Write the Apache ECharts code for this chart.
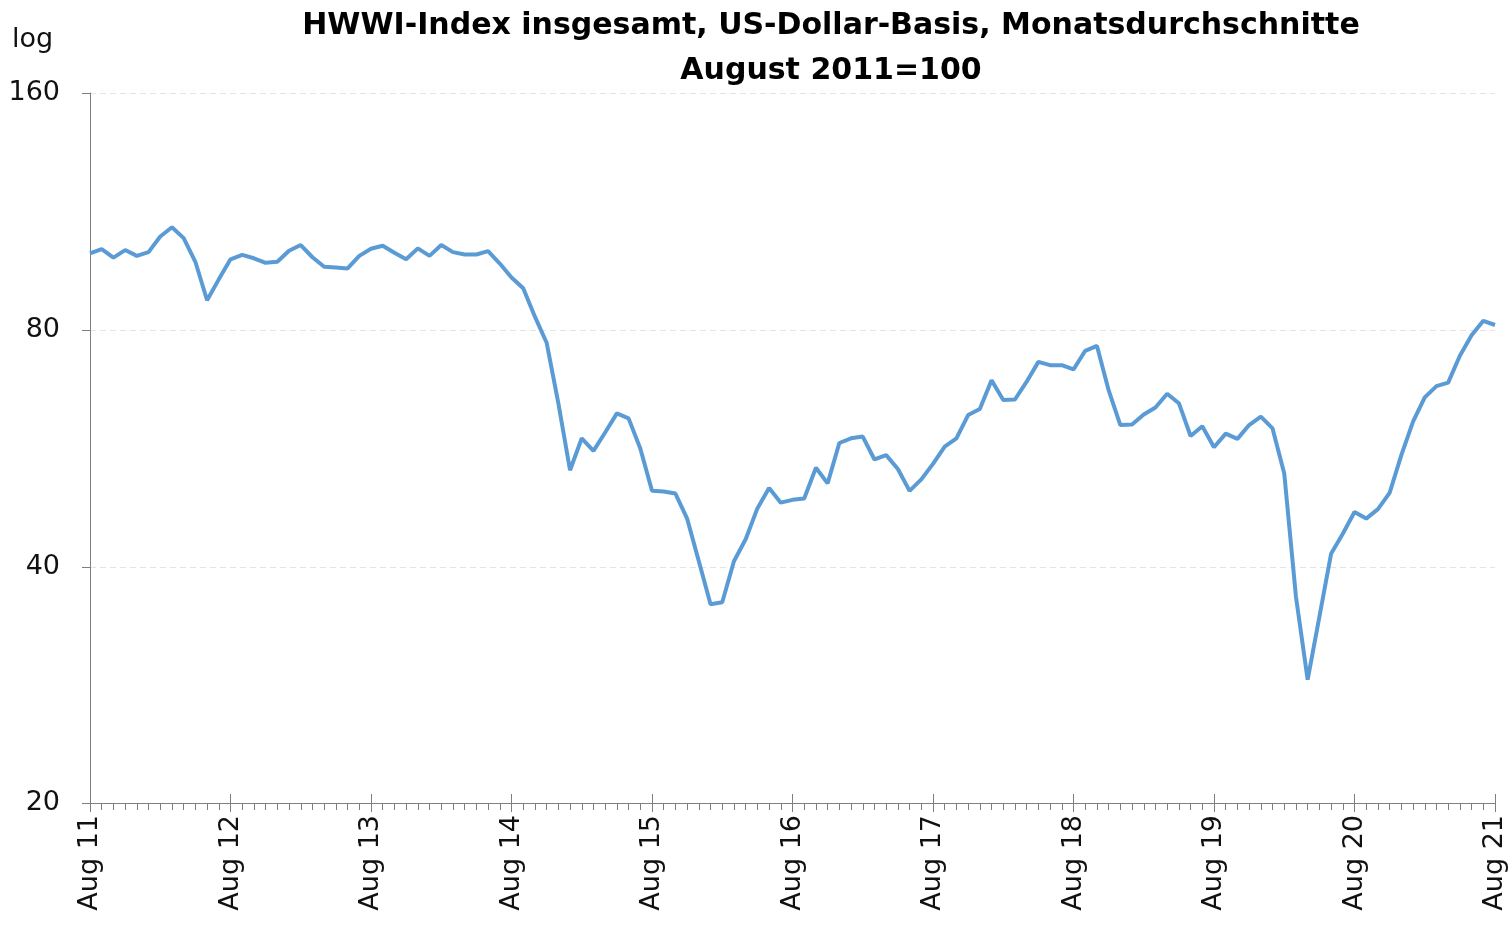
<!DOCTYPE html>
<html>
<head>
<meta charset="utf-8">
<title>HWWI-Index</title>
<script src="https://cdn.jsdelivr.net/npm/echarts@6/dist/echarts.min.js"></script>
<style>
    html, body { margin: 0; padding: 0; background: #fff; }
    #main { width: 1512px; height: 926px; }
</style>
</head>
<body>
<div id="main"></div>
<script>
// Monatswerte Aug 2011 .. Aug 2021 (121 Monate), Aug 2011 = 100
var tickLabels = ['Aug 11', 'Aug 12', 'Aug 13', 'Aug 14', 'Aug 15', 'Aug 16',
    'Aug 17', 'Aug 18', 'Aug 19', 'Aug 20', 'Aug 21'];

var index2011 = [100.0, 101.3, 98.8, 101.0, 99.3, 100.4, 105.1, 108.0, 104.6, 97.6, 87.2, 92.7];
var index2012 = [98.3, 99.6, 98.6, 97.3, 97.6, 100.8, 102.5, 98.9, 96.2, 96.0, 95.7, 99.3];
var index2013 = [101.4, 102.3, 100.2, 98.3, 101.5, 99.3, 102.5, 100.4, 99.7, 99.7, 100.7, 97.1];
var index2014 = [93.2, 90.3, 83.1, 77.0, 64.5, 53.0, 58.2, 56.1, 59.2, 62.6, 61.7, 56.5];
var index2015 = [49.9, 49.8, 49.5, 46.0, 40.6, 35.8, 36.0, 40.6, 43.3, 47.4, 50.3, 48.2];
var index2016 = [48.6, 48.8, 53.4, 51.0, 57.4, 58.2, 58.5, 54.7, 55.4, 53.2, 49.9, 51.6];
var index2017 = [54.0, 56.8, 58.2, 62.3, 63.4, 69.0, 65.1, 65.2, 68.7, 72.8, 72.1, 72.1];
var index2018 = [71.2, 75.2, 76.3, 67.0, 60.5, 60.6, 62.4, 63.7, 66.3, 64.5, 58.6, 60.3];
var index2019 = [56.7, 59.0, 58.1, 60.5, 62.0, 59.9, 52.5, 36.6, 28.7, 34.5, 41.5, 44.0];
var index2020 = [46.9, 46.0, 47.3, 49.6, 55.4, 61.1, 65.6, 67.8, 68.5, 74.1, 78.7, 82.1, 81.1];

var values = [].concat(index2011, index2012, index2013, index2014, index2015,
    index2016, index2017, index2018, index2019, index2020);

// Kategorien: ein Eintrag pro Monat
var months = [];
for (var i = 0; i < values.length; i++) {
    var m = 7 + i; // Aug 2011 = Monat 7 (0-basiert)
    months.push((2011 + Math.floor(m / 12)) + '-' + ('0' + (m % 12 + 1)).slice(-2));
}

var isYear = function (idx) { return idx % 12 === 0; };
var labelFont = 'DejaVu Sans';
var axisGray = '#7f7f7f';

var myChart = echarts.init(document.getElementById('main'));

var baseX = {
    type: 'category',
    data: months,
    boundaryGap: false,
    position: 'bottom',
    axisLine: { show: true, onZero: false, lineStyle: { color: axisGray, width: 1 } },
    splitLine: { show: false }
};

var option = {
    animation: false,
    grid: { left: 90, right: 17, top: 93, bottom: 123, containLabel: false, outerBoundsMode: 'none' },
    graphic: [
        { type: 'text', left: 12, top: 26,
          style: { text: 'log', font: '27px "DejaVu Sans"', fill: '#111' } },
        { type: 'text', x: 831, y: 26,
          style: { text: 'HWWI-Index insgesamt, US-Dollar-Basis, Monatsdurchschnitte',
                   font: 'bold 30px "DejaVu Sans"', fill: '#000',
                   textAlign: 'center', textVerticalAlign: 'middle' } },
        { type: 'text', x: 831, y: 71,
          style: { text: 'August 2011=100',
                   font: 'bold 30px "DejaVu Sans"', fill: '#000',
                   textAlign: 'center', textVerticalAlign: 'middle' } }
    ],
    xAxis: [
        // Monats-Ticks mit Jahresbeschriftung
        echarts.util.merge({
            axisTick: { show: true, interval: 0, length: 7, lineStyle: { color: axisGray } },
            axisLabel: {
                interval: function (idx) { return isYear(idx); },
                rotate: 90,
                margin: 12,
                fontFamily: labelFont,
                fontSize: 27,
                color: '#111',
                formatter: function (val, idx) { return tickLabels[idx / 12]; }
            }
        }, baseX, true),
        // Jahres-Ticks nach unten
        echarts.util.merge({
            axisTick: { show: true, interval: function (idx) { return isYear(idx); },
                        length: 9, lineStyle: { color: axisGray } },
            axisLabel: { show: false }
        }, baseX, true),
        // Jahres-Ticks nach oben
        echarts.util.merge({
            axisTick: { show: true, inside: true, interval: function (idx) { return isYear(idx); },
                        length: 9, lineStyle: { color: axisGray } },
            axisLabel: { show: false }
        }, baseX, true)
    ],
    yAxis: {
        type: 'log',
        logBase: 2,
        min: 20,
        max: 160,
        interval: 1,
        axisLine: { show: true, lineStyle: { color: axisGray, width: 1 } },
        axisTick: { show: true, length: 8, lineStyle: { color: axisGray } },
        axisLabel: {
            margin: 30, fontFamily: labelFont, fontSize: 27, color: '#111',
            formatter: function (v) { return String(Math.round(v)); }
        },
        splitLine: { show: true, lineStyle: { color: '#e4e4e4', type: [6, 4], width: 1 } }
    },
    series: [{
        name: 'HWWI-Index',
        type: 'line',
        data: values,
        symbol: 'none',
        lineStyle: { color: '#5b9bd5', width: 4 },
        z: 5
    }]
};

myChart.setOption(option);
</script>
</body>
</html>
